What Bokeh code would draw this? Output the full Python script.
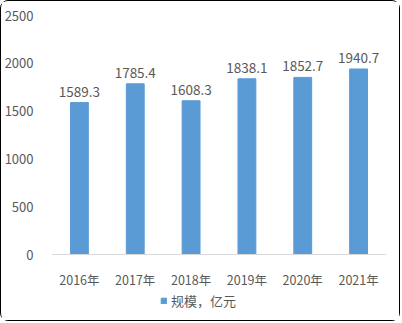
from bokeh.plotting import figure
from bokeh.models import ColumnDataSource, Range1d, FactorRange, FixedTicker, Legend, LegendItem, LabelSet
from bokeh.core.properties import value
from bokeh.embed import file_html
from bokeh.resources import INLINE

years = ["2016年", "2017年", "2018年", "2019年", "2020年", "2021年"]
values = [1589.3, 1785.4, 1608.3, 1838.1, 1852.7, 1940.7]
y_ticks = [0, 500, 1000, 1500, 2000, 2500]
series_name = "规模，亿元"

FONT = "Noto Sans CJK SC"
TXT = "#595959"
BAR = "#5B9BD5"

W, H = 400, 321
TOP, BOT = 14, 4
base_px = 253  # pixel row of value 0 (from top)
px_per_unit = (base_px - TOP) / 2500
y_min = -(H - BOT - base_px) / px_per_unit

src = ColumnDataSource(dict(x=years, y=values, lab=[f"{v:.1f}" for v in values]))

p = figure(width=W, height=H, x_range=FactorRange(*years), y_range=Range1d(y_min, 2500),
           output_backend="svg", toolbar_location=None,
           min_border_left=49, min_border_right=15, min_border_top=TOP, min_border_bottom=BOT)
p.styles = {"border": "1px solid #000000", "border-radius": "8px"}
p.outline_line_color = None
p.xgrid.grid_line_color = None
p.ygrid.grid_line_color = None

r = p.vbar(x="x", top="y", width=0.32, source=src, color=BAR)

labels = LabelSet(x="x", y="y", text="lab", source=src, text_align="center", text_baseline="bottom",
                  y_offset=6, text_font=value(FONT), text_font_size="13.5px", text_color=TXT)
p.add_layout(labels)

p.yaxis.ticker = FixedTicker(ticks=y_ticks)
p.yaxis.axis_line_color = None
p.yaxis.major_tick_line_color = None
p.yaxis.minor_tick_line_color = None
p.yaxis.major_label_text_font = FONT
p.yaxis.major_label_text_font_size = "13px"
p.yaxis.major_label_text_color = TXT
p.yaxis.major_label_standoff = 12

p.xaxis.fixed_location = 0
p.xaxis.axis_line_color = "#D9D9D9"
p.xaxis.axis_line_width = 1
p.xaxis.major_tick_line_color = None
p.xaxis.minor_tick_line_color = None
p.xaxis.major_label_text_font = FONT
p.xaxis.major_label_text_font_size = "12.5px"
p.xaxis.major_label_text_color = TXT
p.xaxis.major_label_standoff = 9

legend = Legend(items=[LegendItem(label=series_name, renderers=[r])], orientation="horizontal",
                location=(109, 8), glyph_width=7, glyph_height=7, label_standoff=4,
                label_text_font=FONT, label_text_font_size="13px", label_text_color=TXT,
                border_line_color=None, background_fill_alpha=0, padding=2, margin=0)
p.add_layout(legend)

open("out.html", "w").write(file_html(p, INLINE))
